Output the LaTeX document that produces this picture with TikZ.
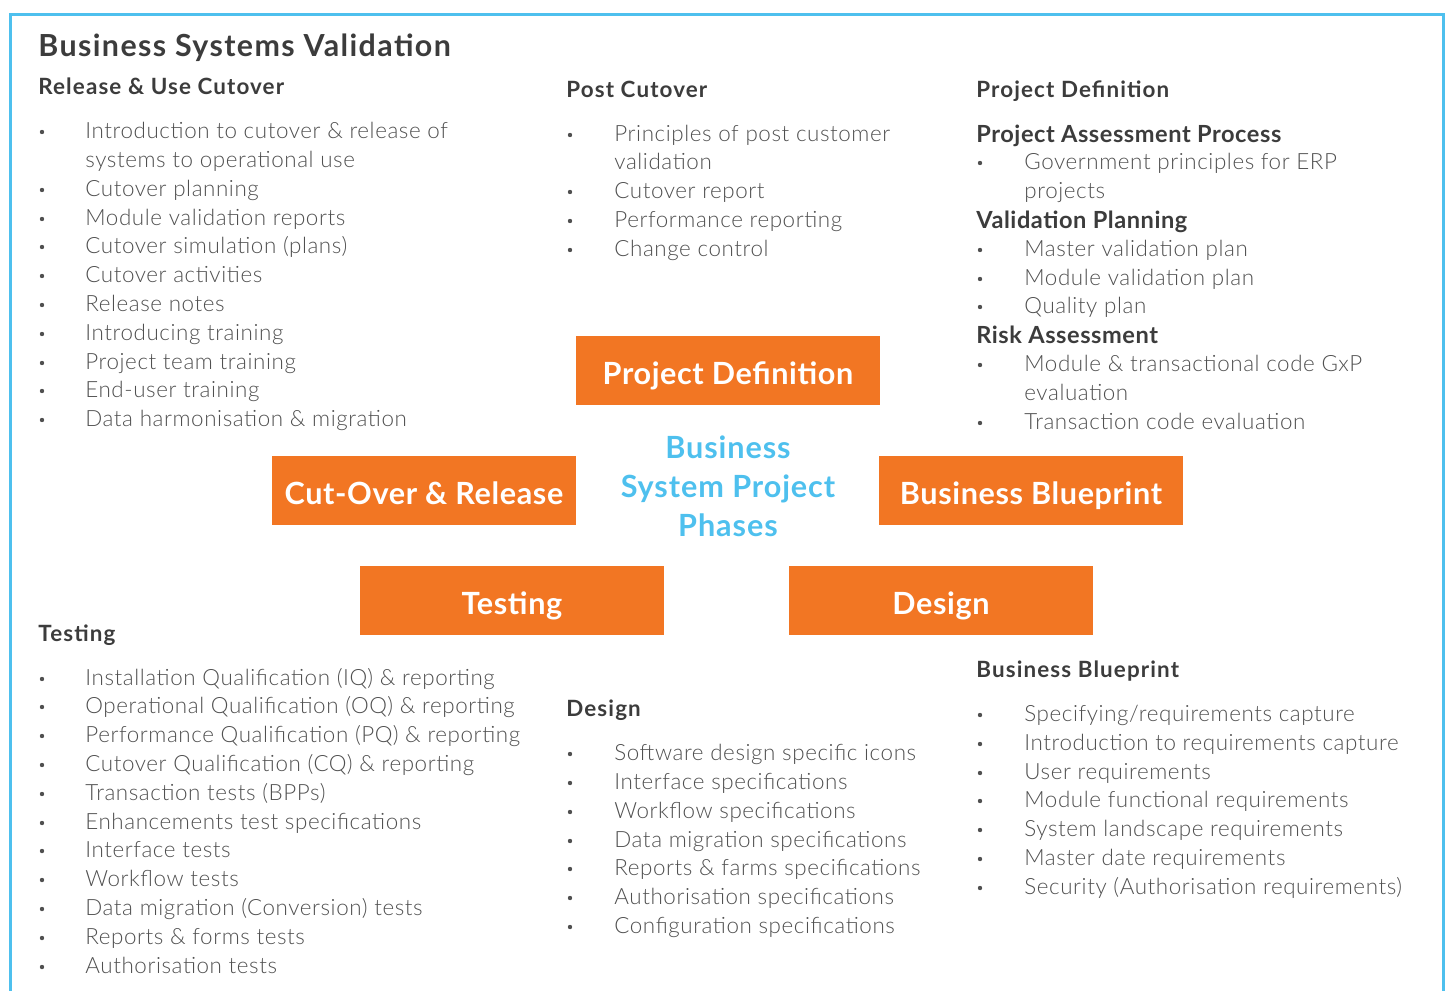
\documentclass[tikz,border=0pt]{standalone}
\usepackage{fontspec}
\setmainfont{Lato}
\newfontfamily\lightfont{Lato Light}
\definecolor{bsvblue}{HTML}{4EC0EE}
\definecolor{bsvorange}{HTML}{F27623}
\definecolor{bsvgray}{HTML}{505050}
\definecolor{bsvdark}{HTML}{3C3C3C}

\tikzset{
  phase/.style={fill=bsvorange, minimum width=152pt, minimum height=34.5pt, inner sep=0pt,
    text height=13.5pt, text depth=0pt, text=white,
    font=\bfseries\fontsize{15.3}{18}\selectfont\addfontfeatures{LetterSpace=2}},
  head/.style={anchor=base west, inner sep=0pt, text=bsvdark,
    font=\bfseries\fontsize{11.2}{13}\selectfont\addfontfeatures{LetterSpace=5}},
  subhead/.style={head, font=\bfseries\fontsize{11.8}{14}\selectfont\addfontfeatures{LetterSpace=2.3}},
  entry/.style={anchor=base west, inner sep=0pt, text=bsvgray,
    font=\lightfont\fontsize{11.2}{13}\selectfont\addfontfeatures{LetterSpace=2.6}},
  dot/.style={circle, fill=bsvgray, inner sep=0pt, minimum size=2.2pt},
}

\begin{document}
\begin{tikzpicture}[x=0.5pt, y=-0.5pt]
  \useasboundingbox (0,0) rectangle (1448,991);
  % frame
  \draw[bsvblue, line width=1.5pt] (10,991) -- (10,14) -- (1443,14) -- (1443,991);
  % title
  \node[head, font=\bfseries\fontsize{15.2}{18}\selectfont\addfontfeatures{LetterSpace=4.6}] (title) at (38,56)
    {Business Systems Validation};

  % release & use cutover
  \node[head] (relhead) at (38,94) {Release \& Use Cutover};
  \foreach \y/\t [count=\i] in {131/{Introduction to cutover \& release of}, 189/Cutover planning,
      218/Module validation reports, 246/Cutover simulation (plans), 275/Cutover activities,
      304/Release notes, 333/Introducing training, 362/Project team training,
      390/End-user training, 419/Data harmonisation \& migration} {
    \node[dot] (reldot\i) at (42,\y+1) {};
    \node[entry] (rel\i) at (85,\y+7) {\t};
  }
  \node[entry] (rel1b) at (85,167) {systems to operational use};

  % post cutover
  \node[head] (posthead) at (566,97) {Post Cutover};
  \foreach \y/\t [count=\i] in {134/Principles of post customer, 191/Cutover report,
      220/Performance reporting, 249/Change control} {
    \node[dot] (postdot\i) at (570,\y+1) {};
    \node[entry] (post\i) at (614,\y+7) {\t};
  }
  \node[entry] (post1b) at (614,169) {validation};

  % project definition
  \node[head] (defhead) at (976,97) {Project Definition};
  \node[subhead] (asshead) at (976,142) {Project Assessment Process};
  \node[dot] (assdot) at (980,163) {};
  \node[entry] (ass1) at (1024,169) {Government principles for ERP};
  \node[entry] (ass1b) at (1024,198) {projects};
  \node[subhead] (valhead) at (976,228) {Validation Planning};
  \foreach \y/\t [count=\i] in {249/Master validation plan, 278/Module validation plan, 306/Quality plan} {
    \node[dot] (valdot\i) at (980,\y+1) {};
    \node[entry] (val\i) at (1024,\y+7) {\t};
  }
  \node[subhead] (riskhead) at (976,343) {Risk Assessment};
  \foreach \y/\t [count=\i] in {364/{Module \& transactional code GxP}, 422/Transaction code evaluation} {
    \node[dot] (riskdot\i) at (980,\y+1) {};
    \node[entry] (risk\i) at (1024,\y+7) {\t};
  }
  \node[entry] (risk1b) at (1024,400) {evaluation};

  % phases
  \node[phase] (pdef) at (728,370.5) {Project Definition};
  \node[phase] (pcut) at (424,490.5) {Cut-Over \& Release};
  \node[phase] (pblue) at (1031,490.5) {Business Blueprint};
  \node[phase] (ptest) at (512,600.5) {Testing};
  \node[phase] (pdes) at (941,600.5) {Design};
  \node[align=center, text=bsvblue,
    font=\bfseries\fontsize{15.3}{19.5}\selectfont\addfontfeatures{LetterSpace=3}] (phases) at (728,486)
    {Business\\System Project\\Phases};

  % testing
  \node[head] (testhead) at (38,641) {Testing};
  \foreach \y/\t [count=\i] in {678/Installation Qualification (IQ) \& reporting,
      706/Operational Qualification (OQ) \& reporting, 735/Performance Qualification (PQ) \& reporting,
      764/Cutover Qualification (CQ) \& reporting, 793/Transaction tests (BPPs),
      822/Enhancements test specifications, 850/Interface tests, 879/Workflow tests,
      908/Data migration (Conversion) tests, 937/Reports \& forms tests, 966/Authorisation tests} {
    \node[dot] (testdot\i) at (42,\y+1) {};
    \node[entry] (test\i) at (85,\y+7) {\t};
  }

  % design
  \node[head] (deshead) at (566,716) {Design};
  \foreach \y/\t [count=\i] in {753/Software design specific icons, 782/Interface specifications,
      811/Workflow specifications, 840/Data migration specifications,
      868/Reports \& farms specifications, 897/Authorisation specifications,
      926/Configuration specifications} {
    \node[dot] (desdot\i) at (570,\y+1) {};
    \node[entry] (des\i) at (614,\y+7) {\t};
  }

  % business blueprint
  \node[head] (bluehead) at (976,677) {Business Blueprint};
  \foreach \y/\t [count=\i] in {714/{Specifying/requirements capture}, 743/Introduction to requirements capture,
      772/User requirements, 800/Module functional requirements,
      829/System landscape requirements, 858/Master date requirements,
      887/Security (Authorisation requirements)} {
    \node[dot] (bluedot\i) at (980,\y+1) {};
    \node[entry] (blue\i) at (1024,\y+7) {\t};
  }
\end{tikzpicture}
\end{document}
